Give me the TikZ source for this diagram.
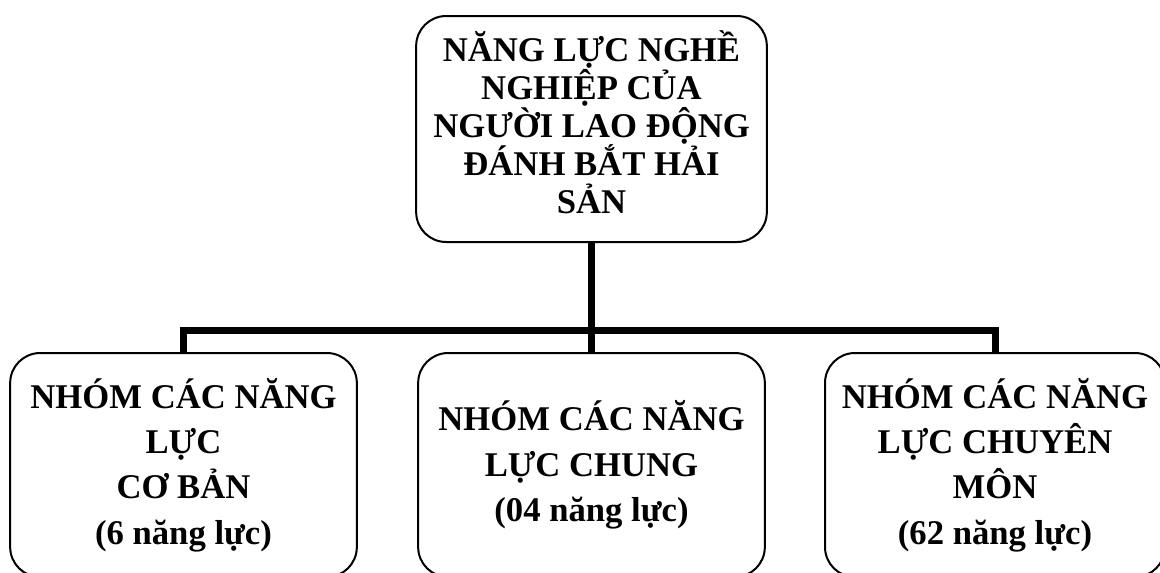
\documentclass[tikz,border=0pt]{standalone}
\usepackage{fontspec}
\setmainfont{Liberation Serif}
\usetikzlibrary{positioning}
\tikzstyle{m} = [rectangle, draw=black, rounded corners=22.5pt, line width=1.5pt, align=center, inner sep=0pt, text depth=10.5pt, minimum width=263pt, minimum height=169.5pt, font=\bfseries\fontsize{26}{28.5}\selectfont]
\tikzstyle{g} = [rectangle, draw=black, rounded corners=22.5pt, line width=1.5pt, align=center, inner sep=0pt, minimum width=260pt, minimum height=168pt, font=\bfseries\fontsize{26}{34}\selectfont]
\tikzstyle{k} = [black, line width=5.25pt]
\begin{document}
\begin{tikzpicture}[x=0.75pt,y=-0.75pt]
		\useasboundingbox (0,0) rectangle (1160,572);
		\clip (0,0) rectangle (1160,572);

		\node[m] (nghe) at (591.5,129) {NĂNG LỰC NGHỀ\\NGHIỆP CỦA\\NGƯỜI LAO ĐỘNG\\ĐÁNH BẮT HẢI\\SẢN};

		\node[g] (coban) at (183.5,465) {NHÓM CÁC NĂNG\\LỰC\\CƠ BẢN\\(6 năng lực)};
		\node[g] (chung) at (591.5,465) {NHÓM CÁC NĂNG\\LỰC CHUNG\\(04 năng lực)};
		\node[g, minimum width=255pt] (chuyenmon) at (995,465) {NHÓM CÁC NĂNG\\LỰC CHUYÊN\\MÔN\\(62 năng lực)};

		\coordinate (bar) at (591.5,330);
		\draw[k] (nghe.south) -- (bar);
		\draw[k] (bar) -| (coban.north);
		\draw[k] (bar) -- (chung.north);
		\draw[k] (bar) -| (chuyenmon.north);
	\end{tikzpicture}
\end{document}
